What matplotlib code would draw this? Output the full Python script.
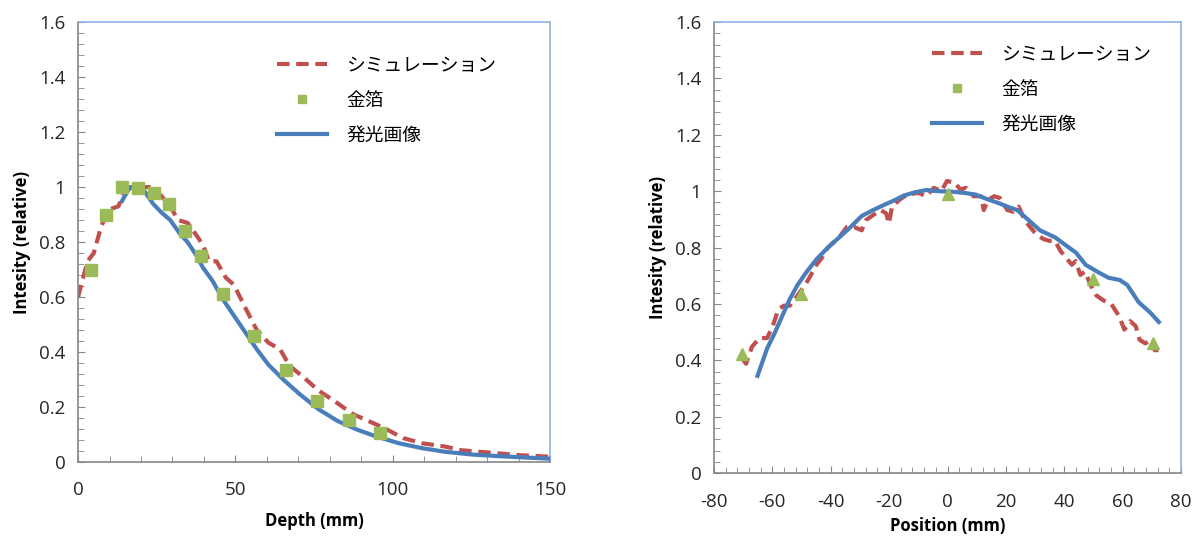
import numpy as np
import matplotlib
matplotlib.use("Agg")
import matplotlib.pyplot as plt
from matplotlib.lines import Line2D
from matplotlib.ticker import MultipleLocator, FuncFormatter

plt.rcParams["font.family"] = ["Open Sans", "Noto Sans CJK JP", "DejaVu Sans"]
plt.rcParams["axes.unicode_minus"] = False

# Depth profile (left)
sim_depth_x = [0, 3, 5, 7.3, 9.8, 12.8, 14.7, 17, 20, 23.6, 26.3, 29.3, 31.8, 34.8, 37.3, 39.7,
               41.6, 44, 47, 49.5, 53.2, 56.8, 60.5, 64.2, 67.2, 71.5, 76.4, 81.3, 87.4, 92.3,
               97.2, 103.3, 109.4, 116.7, 121.6, 127.7, 133.9, 140, 150]
sim_depth_y = [0.6, 0.73, 0.76, 0.855, 0.918, 0.93, 0.98, 1.0, 1.0, 1.0, 0.97, 0.93, 0.88, 0.87,
               0.83, 0.79, 0.73, 0.73, 0.67, 0.645, 0.56, 0.48, 0.434, 0.41, 0.35, 0.31, 0.26,
               0.223, 0.174, 0.149, 0.124, 0.087, 0.068, 0.056, 0.043, 0.037, 0.031, 0.025, 0.019]
img_depth_x = [14, 16.5, 18.3, 20.8, 23.8, 26.3, 29.3, 32.4, 34.8, 37.3, 39.7, 42.8, 45.8, 49.5,
               53.2, 56.8, 60.5, 65.4, 70.3, 76.4, 82.5, 88.6, 94.7, 102, 109.4, 116.7, 125.3,
               133.9, 150]
img_depth_y = [0.95, 1.0, 1.0, 0.99, 0.94, 0.91, 0.88, 0.83, 0.80, 0.757, 0.707, 0.658, 0.596,
               0.533, 0.471, 0.41, 0.354, 0.298, 0.248, 0.192, 0.149, 0.118, 0.093, 0.068, 0.05,
               0.037, 0.027, 0.021, 0.012]
foil_depth_x = [4, 9, 14, 19, 24, 29, 34, 39, 46, 56, 66, 76, 86, 96]
foil_depth_y = [0.70, 0.90, 1.0, 0.995, 0.98, 0.937, 0.84, 0.75, 0.61, 0.46, 0.335, 0.223, 0.153, 0.105]

# Lateral profile (right)
sim_pos_x = [-70.3, -69, -67, -64.4, -61.8, -59.9, -57.9, -56, -54, -51.4, -48.8, -47.5, -44.9,
             -43, -41, -39.1, -37.1, -34.5, -32, -29.4, -28, -25.5, -22.9, -21, -20.1, -19, -16.4,
             -13.8, -9.9, -7.3, -4.7, -2.1, -0.2, 2.5, 4.4, 6.3, 8.9, 11.5, 12.4, 14, 16, 17.9,
             20.5, 22.5, 24.4, 26.4, 28.3, 30.3, 32.9, 34.8, 36.8, 38.7, 40.6, 42.6, 43.9, 45.5,
             47.1, 49, 51, 53.5, 56.1, 58.7, 60.6, 62.6, 64.5, 65.8, 67.8, 69.7, 71, 72.3]
sim_pos_y = [0.406, 0.388, 0.448, 0.479, 0.479, 0.521, 0.582, 0.594, 0.594, 0.63, 0.667, 0.69,
             0.739, 0.764, 0.80, 0.818, 0.836, 0.873, 0.873, 0.861, 0.897, 0.915, 0.933, 0.921,
             0.885, 0.945, 0.97, 0.988, 0.994, 0.982, 1.012, 1.0, 1.036, 1.03, 1.006, 1.012,
             0.982, 0.982, 0.933, 0.97, 0.982, 0.976, 0.933, 0.927, 0.945, 0.897, 0.873, 0.848,
             0.83, 0.824, 0.824, 0.788, 0.764, 0.739, 0.752, 0.703, 0.715, 0.667, 0.63, 0.612,
             0.60, 0.558, 0.509, 0.539, 0.521, 0.473, 0.46, 0.473, 0.436, 0.436]
img_pos_x = [-65.1, -61.8, -59.2, -56.6, -54, -51.4, -48.2, -44.9, -41, -37.1, -33.2, -29.4,
             -25.5, -21.6, -17.7, -15.1, -11.2, -7.3, -3.4, 1.8, 5.7, 9.6, 13.5, 17.4, 21.3,
             23.9, 27.8, 31.7, 36.9, 40.8, 44, 47.3, 51.2, 55.1, 59, 61.6, 65.5, 69.4, 72.4]
img_pos_y = [0.345, 0.442, 0.497, 0.558, 0.618, 0.667, 0.715, 0.758, 0.80, 0.836, 0.873, 0.912,
             0.933, 0.952, 0.97, 0.984, 0.996, 1.004, 1.0, 0.998, 0.994, 0.988, 0.972, 0.958,
             0.942, 0.933, 0.897, 0.861, 0.836, 0.806, 0.782, 0.739, 0.715, 0.693, 0.685, 0.667,
             0.606, 0.57, 0.536]
foil_pos_x = [-70.3, -50.1, 0, 49.9, 70.3]
foil_pos_y = [0.424, 0.636, 0.99, 0.69, 0.46]

labels = ["シミュレーション", "金箔", "発光画像"]
red = "#C0504D"
green = "#9BBB59"
blue = "#4A7EBB"
frame_blue = "#8DB3E2"
gray = "#868686"

fig = plt.figure(figsize=(11.95, 5.37), dpi=100)
ax1 = fig.add_axes([0.0653, 0.1397, 0.395, 0.819])
ax2 = fig.add_axes([0.5975, 0.119, 0.3908, 0.84])


def style(ax):
    ax.spines["top"].set_color(frame_blue)
    ax.spines["right"].set_color(frame_blue)
    ax.spines["left"].set_color(gray)
    ax.spines["bottom"].set_color(gray)
    for s in ax.spines.values():
        s.set_linewidth(1.2)
    ax.tick_params(which="both", direction="in", color=gray, labelsize=13.5, labelcolor="#262626")
    ax.tick_params(which="major", length=5)
    ax.tick_params(which="minor", length=4)
    ax.tick_params(axis="x", pad=14)
    ax.tick_params(axis="y", pad=9)
    ax.yaxis.set_major_locator(MultipleLocator(0.2))
    ax.yaxis.set_minor_locator(MultipleLocator(0.04))
    ax.yaxis.set_major_formatter(FuncFormatter(lambda v, p: "%g" % round(v, 2)))
    ax.set_ylim(0, 1.6)
    ax.set_ylabel("Intesity (relative)", fontsize=12, fontweight="bold", labelpad=6)


def legend(ax, x0, y0):
    handles = [Line2D([], [], color=red, lw=3, ls=(0, (3, 1.6))),
               Line2D([], [], color=green, marker="s", ls="none", markersize=6),
               Line2D([], [], color=blue, lw=3)]
    ax.legend(handles, labels, loc="upper left", bbox_to_anchor=(x0, y0), frameon=False,
              prop={"family": ["Noto Sans CJK JP"], "size": 13.5}, handlelength=2.7,
              handletextpad=1.0, labelspacing=0.74)


# left: depth
ax1.plot(sim_depth_x, sim_depth_y, color=red, lw=3, ls=(0, (3, 1.6)), zorder=2)
ax1.plot(img_depth_x, img_depth_y, color=blue, lw=3, zorder=3)
ax1.plot(foil_depth_x, foil_depth_y, ls="none", marker="s", color=green, markersize=8, zorder=4)
ax1.set_xlim(0, 150)
ax1.xaxis.set_major_locator(MultipleLocator(50))
ax1.xaxis.set_minor_locator(MultipleLocator(10))
ax1.set_xlabel("Depth (mm)", fontsize=12, fontweight="bold", labelpad=9)
style(ax1)
legend(ax1, 0.385, 0.964)

# right: position
ax2.plot(sim_pos_x, sim_pos_y, color=red, lw=3, ls=(0, (3, 1.6)), zorder=2)
ax2.plot(img_pos_x, img_pos_y, color=blue, lw=3, zorder=3)
ax2.plot(foil_pos_x, foil_pos_y, ls="none", marker="^", color=green, markersize=9, zorder=4)
ax2.set_xlim(-80, 80)
ax2.xaxis.set_major_locator(MultipleLocator(20))
ax2.xaxis.set_minor_locator(MultipleLocator(4))
ax2.set_xlabel("Position (mm)", fontsize=12, fontweight="bold", labelpad=5)
style(ax2)
legend(ax2, 0.43, 0.989)

fig.savefig("out.png", dpi=100)
